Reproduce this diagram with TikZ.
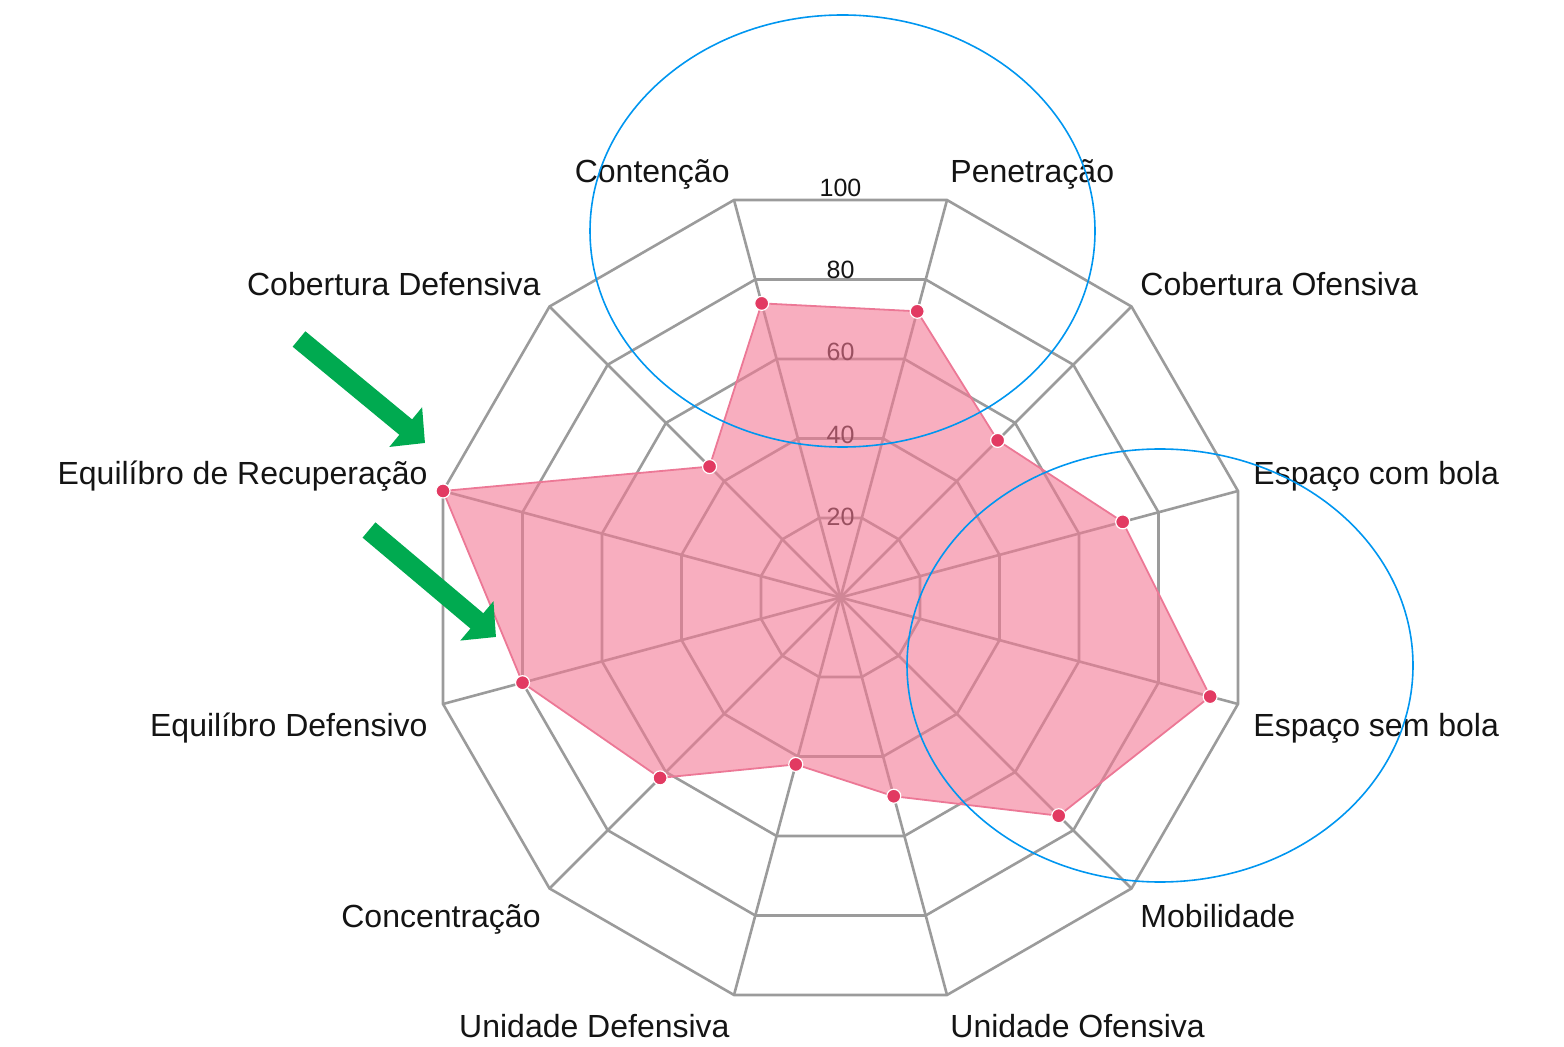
\documentclass[tikz,border=0pt]{standalone}
\usepackage{fontspec}
\setmainfont{Liberation Sans}
\usetikzlibrary{arrows.meta}

\definecolor{gridgray}{RGB}{155,155,155}
\definecolor{radarpink}{RGB}{244,120,148}
\definecolor{radaredge}{RGB}{236,120,150}
\definecolor{radardot}{RGB}{226,58,98}
\definecolor{markblue}{RGB}{0,150,240}
\definecolor{markgreen}{RGB}{0,170,80}
\definecolor{labeltext}{RGB}{20,20,20}

\begin{document}
\begin{tikzpicture}[x=0.5pt,y=0.5pt,yscale=-1,xscale=1,
	gridline/.style={draw=gridgray,line width=1.3pt},
	axislabel/.style={text=labeltext,font=\fontsize{16}{19}\selectfont,inner sep=0pt},
	scalelabel/.style={text=labeltext,font=\fontsize{12.5}{15}\selectfont,inner sep=0pt},
	datadot/.style={circle,fill=radardot,draw=white,line width=0.6pt,minimum size=7pt,inner sep=0pt},
	ringmark/.style={draw=markblue,line width=0.8pt},
	greenarrow/.style={draw=markgreen,line width=10pt,-{Triangle[length=12.5pt,width=25pt]}}]
	\useasboundingbox (0,0) rectangle (1564,1047);

	%Shape: Radar grid, centre at (840.5,597.5)
	\begin{scope}[shift={(840.5,597.5)},yscale=-1]
		\foreach \k in {1,...,5}
			\draw[gridline] (15:{\k*82.3}) \foreach \a in {45,75,...,345} {-- (\a:{\k*82.3})} -- cycle;
		\foreach \a in {15,45,...,345}
			\draw[gridline] (0,0) -- (\a:411.5);
		% Text Node: scale
		\foreach \k/\v in {1/20,2/40,3/60,4/80,5/100}
			\node[scalelabel] (tick\v) at (90:{\k*82.3-1.5}) {\v};
		%Shape: Data polygon
		\foreach \a/\v [count=\i] in {75/72,105/74,135/45,165/100,195/80,225/62,255/42,285/50,315/75,345/93,15/71,45/54}
			\coordinate (p\i) at (\a:{\v*4.115});
		\draw[fill=radarpink,fill opacity=0.6,draw=radaredge,line width=0.9pt]
			(p1) -- (p2) -- (p3) -- (p4) -- (p5) -- (p6) -- (p7) -- (p8) -- (p9) -- (p10) -- (p11) -- (p12) -- cycle;
		\foreach \i in {1,...,12}
			\node[datadot] (dot\i) at (p\i) {};
	\end{scope}

	% Text Node
	\node[axislabel,anchor=base east] (contencao) at (730,183) {Contenção};
	% Text Node
	\node[axislabel,anchor=base west] (penetracao) at (950,183) {Penetração};
	% Text Node
	\node[axislabel,anchor=base east] (cobdef) at (541,296) {Cobertura Defensiva};
	% Text Node
	\node[axislabel,anchor=base west] (cobofe) at (1140,296) {Cobertura Ofensiva};
	% Text Node
	\node[axislabel,anchor=base east] (eqrec) at (428,485) {Equilíbro de Recuperação};
	% Text Node
	\node[axislabel,anchor=base west] (espcom) at (1253,485) {Espaço com bola};
	% Text Node
	\node[axislabel,anchor=base east] (eqdef) at (428,737) {Equilíbro Defensivo};
	% Text Node
	\node[axislabel,anchor=base west] (espsem) at (1253,737) {Espaço sem bola};
	% Text Node
	\node[axislabel,anchor=base east] (concent) at (541,927) {Concentração};
	% Text Node
	\node[axislabel,anchor=base west] (mobil) at (1140,927) {Mobilidade};
	% Text Node
	\node[axislabel,anchor=base east] (unidef) at (730,1037) {Unidade Defensiva};
	% Text Node
	\node[axislabel,anchor=base west] (uniofe) at (950,1037) {Unidade Ofensiva};

	%Shape: Ellipses
	\draw[ringmark] (842.5,231) ellipse [x radius=252.5, y radius=216];
	\draw[ringmark] (1160,665.5) ellipse [x radius=253, y radius=216.5];

	%Shape: Arrows
	\coordinate (tailA) at (299,339);
	\coordinate (tipA) at (425,443);
	\coordinate (tailB) at (369,530);
	\coordinate (tipB) at (496,637);
	\draw[greenarrow] (tailA) -- (tipA);
	\draw[greenarrow] (tailB) -- (tipB);
\end{tikzpicture}
\end{document}
